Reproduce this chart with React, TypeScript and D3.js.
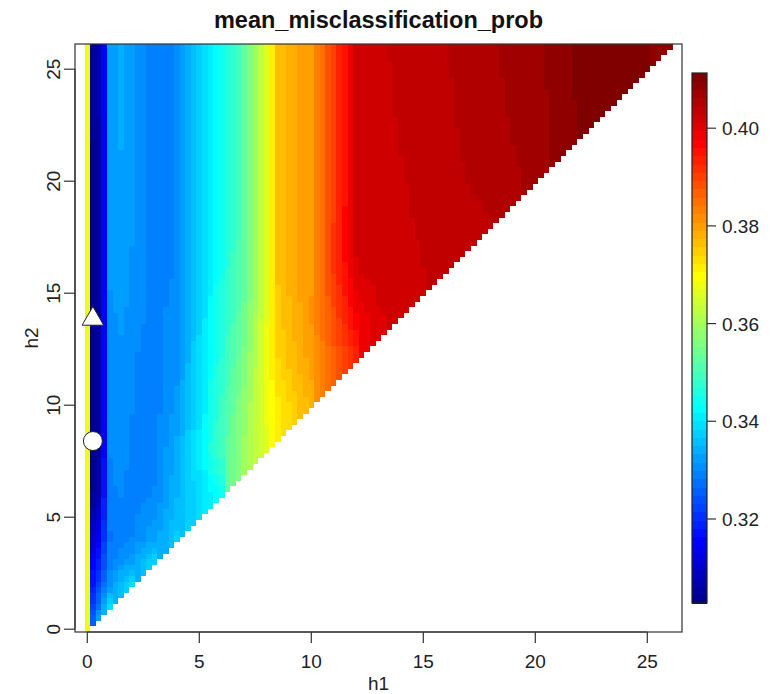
import React, { useMemo } from "react";
import * as d3 from "d3";

// Grid on which the probability surface was evaluated (h1 <= h2 only)
const GRID_STEP = 0.25;
const GRID_MAX = 26;

// Columns (h1) at which each row below was recorded
const H1_KNOTS = [0, 0.25, 0.5, 0.75, 1, 1.5, 2, 3, 4, 5, 6, 7, 8, 8.5, 9, 10, 11, 12, 13, 14, 16, 18, 20, 22, 24, 26];

// Rows (h2); each row stops at the diagonal h1 = h2
const ROW_H2 = [0, 0.5, 1, 2, 3, 4, 6, 8, 10, 12, 14, 16, 18, 20, 22, 24, 26];

const ROW_0 = [0.368];
const ROW_0_5 = [0.368, 0.326, 0.332];
const ROW_1 = [0.368, 0.322, 0.328, 0.334, 0.34];
const ROW_2 = [0.368, 0.318, 0.322, 0.327, 0.331, 0.336, 0.34];
const ROW_3 = [0.368, 0.315, 0.319, 0.324, 0.329, 0.331, 0.333, 0.338];
const ROW_4 = [0.368, 0.31, 0.314, 0.321, 0.328, 0.329, 0.33, 0.333, 0.337];
const ROW_6 = [0.368, 0.3045, 0.307, 0.318, 0.3295, 0.33, 0.329, 0.33, 0.335, 0.339, 0.344];
const ROW_8 = [0.368, 0.3035, 0.306, 0.316, 0.33, 0.331, 0.3295, 0.3295, 0.334, 0.341, 0.35, 0.359, 0.366];
const ROW_10 = [0.368, 0.303, 0.305, 0.316, 0.33, 0.331, 0.33, 0.329, 0.332, 0.339, 0.349, 0.358, 0.368, 0.372, 0.374, 0.378];
const ROW_12 = [0.368, 0.3028, 0.305, 0.316, 0.33, 0.331, 0.33, 0.329, 0.331, 0.339, 0.347, 0.356, 0.368, 0.374, 0.376, 0.38, 0.387, 0.393];
const ROW_14 = [0.368, 0.3028, 0.305, 0.316, 0.331, 0.332, 0.331, 0.329, 0.331, 0.338, 0.346, 0.354, 0.367, 0.375, 0.377, 0.381, 0.389, 0.3975, 0.401, 0.4015];
const ROW_16 = [0.368, 0.303, 0.305, 0.316, 0.332, 0.333, 0.331, 0.329, 0.33, 0.338, 0.345, 0.353, 0.367, 0.376, 0.378, 0.3805, 0.391, 0.401, 0.4018, 0.4023, 0.4033];
const ROW_18 = [0.368, 0.3035, 0.3055, 0.316, 0.332, 0.333, 0.332, 0.329, 0.33, 0.337, 0.344, 0.352, 0.367, 0.376, 0.378, 0.3805, 0.391, 0.4015, 0.402, 0.4025, 0.4036, 0.4043];
const ROW_20 = [0.368, 0.304, 0.306, 0.316, 0.332, 0.333, 0.332, 0.329, 0.33, 0.337, 0.344, 0.352, 0.367, 0.376, 0.378, 0.3805, 0.39, 0.4015, 0.4021, 0.4027, 0.4039, 0.4052, 0.4066];
const ROW_22 = [0.368, 0.3045, 0.306, 0.316, 0.333, 0.3335, 0.332, 0.329, 0.33, 0.337, 0.3435, 0.352, 0.367, 0.376, 0.378, 0.3805, 0.39, 0.4017, 0.4023, 0.4029, 0.4041, 0.4056, 0.407, 0.4097];
const ROW_24 = [0.368, 0.305, 0.3065, 0.316, 0.333, 0.3335, 0.332, 0.329, 0.33, 0.337, 0.3435, 0.352, 0.367, 0.376, 0.378, 0.3805, 0.39, 0.4018, 0.4024, 0.4031, 0.4043, 0.4058, 0.4072, 0.41, 0.4106];
const ROW_26 = [0.368, 0.305, 0.307, 0.316, 0.333, 0.3335, 0.332, 0.329, 0.33, 0.337, 0.3435, 0.352, 0.367, 0.376, 0.378, 0.3805, 0.39, 0.4018, 0.4025, 0.4032, 0.4044, 0.406, 0.4073, 0.4103, 0.4113, 0.4085];

const ROWS = [ROW_0, ROW_0_5, ROW_1, ROW_2, ROW_3, ROW_4, ROW_6, ROW_8, ROW_10, ROW_12, ROW_14, ROW_16, ROW_18, ROW_20, ROW_22, ROW_24, ROW_26];

// Axis ticks
const X_TICKS = [0, 5, 10, 15, 20, 25];
const Y_TICKS = [0, 5, 10, 15, 20, 25];
const LEGEND_TICKS = [0.32, 0.34, 0.36, 0.38, 0.4];

// Highlighted settings
const TRIANGLE_POINT = { h1: 0.25, h2: 13.85 };
const CIRCLE_POINT = { h1: 0.25, h2: 8.4 };

const TITLE = "mean_misclassification_prob";
const X_LABEL = "h1";
const Y_LABEL = "h2";

// tim.colors(64)-style jet palette
const N_COLORS = 64;
const paletteScale = d3
  .scaleLinear<string>()
  .domain([0, 7, 23, 39, 55, 63])
  .range(["#00008F", "#0000FF", "#00FFFF", "#FFFF00", "#FF0000", "#800000"])
  .interpolate(d3.interpolateRgb);
const PALETTE = d3.range(N_COLORS).map((i) => d3.color(paletteScale(i))!.formatHex());

function rowValue(row: number[], h1: number): number | null {
  const last = row.length - 1;
  if (h1 > H1_KNOTS[last] + 1e-9) return null;
  for (let k = 0; k < last; k++) {
    const a = H1_KNOTS[k];
    const b = H1_KNOTS[k + 1];
    if (h1 >= a - 1e-9 && h1 <= b + 1e-9) {
      const t = (h1 - a) / (b - a);
      return row[k] + (row[k + 1] - row[k]) * t;
    }
  }
  return row[last];
}

function surfaceValue(h1: number, h2: number): number | null {
  for (let r = 0; r < ROW_H2.length - 1; r++) {
    const r0 = ROW_H2[r];
    const r1 = ROW_H2[r + 1];
    if (h2 >= r0 - 1e-9 && h2 <= r1 + 1e-9) {
      const v1 = rowValue(ROWS[r + 1], h1);
      const v0 = rowValue(ROWS[r], h1);
      if (v1 === null) return v0;
      if (v0 === null) return v1;
      const t = (h2 - r0) / (r1 - r0);
      return v0 + (v1 - v0) * t;
    }
  }
  return null;
}

const W = 777;
const H = 694;
const PLOT = { left: 75, right: 682, top: 44, bottom: 632 };
const LEGEND = { left: 692, right: 707, top: 73, bottom: 603 };
const FONT = "'Liberation Sans', Arial, Helvetica, sans-serif";

export default function App() {
  const { cells, zmin, zmax } = useMemo(() => {
    const steps = Math.round(GRID_MAX / GRID_STEP);
    const out: { h1: number; h2: number; v: number }[] = [];
    for (let j = 0; j <= steps; j++) {
      const h2 = j * GRID_STEP;
      for (let i = 0; i <= j; i++) {
        const h1 = i * GRID_STEP;
        const v = surfaceValue(h1, h2);
        if (v !== null) out.push({ h1, h2, v });
      }
    }
    const ext = d3.extent(out, (d) => d.v) as [number, number];
    return { cells: out, zmin: ext[0], zmax: ext[1] };
  }, []);

  // equal aspect: y spans the cell edges, x is centred with the same units per pixel
  const yLo = -GRID_STEP / 2;
  const yHi = GRID_MAX + GRID_STEP / 2;
  const ppu = (PLOT.bottom - PLOT.top) / (yHi - yLo);
  const xMid = GRID_MAX / 2;
  const halfW = (PLOT.right - PLOT.left) / 2 / ppu;
  const x = d3.scaleLinear().domain([xMid - halfW, xMid + halfW]).range([PLOT.left, PLOT.right]);
  const y = d3.scaleLinear().domain([yLo, yHi]).range([PLOT.bottom, PLOT.top]);

  const colorOf = (v: number) => {
    const k = Math.min(N_COLORS - 1, Math.max(0, Math.floor(((v - zmin) / (zmax - zmin)) * N_COLORS)));
    return PALETTE[k];
  };

  const ly = d3.scaleLinear().domain([zmin, zmax]).range([LEGEND.bottom, LEGEND.top]);
  const binH = (LEGEND.bottom - LEGEND.top) / N_COLORS;

  const triR = 12.5;
  const tp = { x: x(TRIANGLE_POINT.h1), y: y(TRIANGLE_POINT.h2) };
  const triPath =
    d3.line()([
      [tp.x, tp.y - triR],
      [tp.x + triR * 0.866, tp.y + triR * 0.5],
      [tp.x - triR * 0.866, tp.y + triR * 0.5],
    ]) + "Z";

  const tickLen = 11;
  const ink = "#333";
  const labelSize = 19;

  return (
    <svg width={W} height={H} style={{ position: "absolute", left: 0, top: 0, background: "#fff" }} fontFamily={FONT}>
      <rect width={W} height={H} fill="#fff" />
      <g shapeRendering="crispEdges">
        {cells.map((c, i) => {
          const x0 = Math.round(x(c.h1 - GRID_STEP / 2));
          const x1 = Math.round(x(c.h1 + GRID_STEP / 2));
          const y0 = Math.round(y(c.h2 + GRID_STEP / 2));
          const y1 = Math.round(y(c.h2 - GRID_STEP / 2));
          return <rect key={i} x={x0} y={y0} width={x1 - x0} height={y1 - y0} fill={colorOf(c.v)} />;
        })}
      </g>

      {/* markers */}
      <path d={triPath} fill="#fff" stroke="#222" strokeWidth={1} />
      <circle cx={x(CIRCLE_POINT.h1)} cy={y(CIRCLE_POINT.h2)} r={9.5} fill="#fff" stroke="#222" strokeWidth={1} />

      {/* frame */}
      <rect x={PLOT.left} y={PLOT.top} width={PLOT.right - PLOT.left} height={PLOT.bottom - PLOT.top} fill="none" stroke={ink} strokeWidth={1.2} />

      {/* x axis */}
      <g>
        <line x1={x(X_TICKS[0])} x2={x(X_TICKS[X_TICKS.length - 1])} y1={PLOT.bottom} y2={PLOT.bottom} stroke={ink} strokeWidth={1.2} />
        {X_TICKS.map((t) => (
          <g key={t}>
            <line x1={x(t)} x2={x(t)} y1={PLOT.bottom} y2={PLOT.bottom + tickLen} stroke={ink} strokeWidth={1.2} />
            <text x={x(t)} y={668} textAnchor="middle" fontSize={labelSize} fill="#222">
              {t}
            </text>
          </g>
        ))}
        <text x={(PLOT.left + PLOT.right) / 2} y={690} textAnchor="middle" fontSize={labelSize} fill="#222">
          {X_LABEL}
        </text>
      </g>

      {/* y axis */}
      <g>
        <line x1={PLOT.left} x2={PLOT.left} y1={y(Y_TICKS[0])} y2={y(Y_TICKS[Y_TICKS.length - 1])} stroke={ink} strokeWidth={1.2} />
        {Y_TICKS.map((t) => (
          <g key={t}>
            <line x1={PLOT.left - tickLen} x2={PLOT.left} y1={y(t)} y2={y(t)} stroke={ink} strokeWidth={1.2} />
            <text transform={`translate(60,${y(t)}) rotate(-90)`} textAnchor="middle" fontSize={labelSize} fill="#222">
              {t}
            </text>
          </g>
        ))}
        <text transform={`translate(38,${(PLOT.top + PLOT.bottom) / 2}) rotate(-90)`} textAnchor="middle" fontSize={labelSize} fill="#222">
          {Y_LABEL}
        </text>
      </g>

      {/* title */}
      <text x={(PLOT.left + PLOT.right) / 2} y={28} textAnchor="middle" fontSize={23.5} fontWeight="bold" fill="#111">
        {TITLE}
      </text>

      {/* colour legend */}
      <g>
        <g shapeRendering="crispEdges">
          {PALETTE.map((col, i) => (
            <rect key={i} x={LEGEND.left} y={LEGEND.bottom - (i + 1) * binH} width={LEGEND.right - LEGEND.left} height={binH + 0.5} fill={col} />
          ))}
        </g>
        <rect x={LEGEND.left} y={LEGEND.top} width={LEGEND.right - LEGEND.left} height={LEGEND.bottom - LEGEND.top} fill="none" stroke="#222" strokeWidth={1.2} />
        {LEGEND_TICKS.map((t) => (
          <g key={t}>
            <line x1={LEGEND.right} x2={LEGEND.right + 9} y1={ly(t)} y2={ly(t)} stroke={ink} strokeWidth={1.2} />
            <text x={LEGEND.right + 15} y={ly(t) + 7} fontSize={labelSize} fill="#222">
              {t.toFixed(2)}
            </text>
          </g>
        ))}
      </g>
    </svg>
  );
}
